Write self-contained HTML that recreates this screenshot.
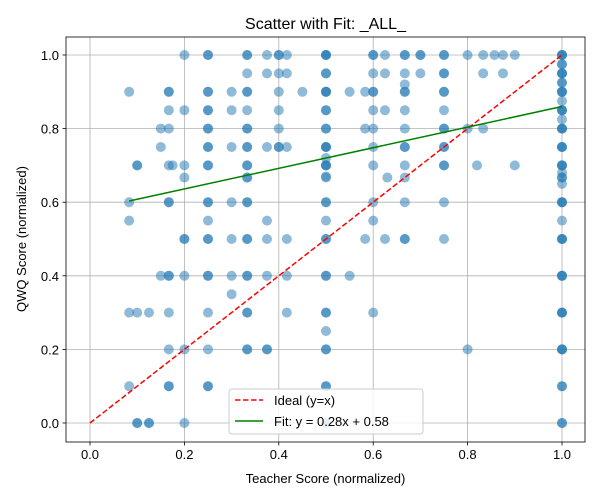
<!DOCTYPE html>
<html><head><meta charset="utf-8"><style>
body{margin:0;background:#fff}
svg{display:block;font-family:"Liberation Sans","DejaVu Sans",sans-serif}
</style></head><body>
<svg id="chart" width="600" height="500" viewBox="0 0 600 500">
<rect x="0" y="0" width="600" height="500" fill="#fff"/>
<g id="grid"></g><g id="pts"></g><g id="lines"></g><g id="axes"></g>
<text x="325.5" y="29" text-anchor="middle" font-size="16">Scatter with Fit: _ALL_</text>
<text x="325.5" y="483" text-anchor="middle" font-size="13">Teacher Score (normalized)</text>
<text x="26" y="239" text-anchor="middle" font-size="13" transform="rotate(-90 26 239)">QWQ Score (normalized)</text>
<g>
<rect x="229" y="389" width="194" height="45" rx="3" fill="#fff" fill-opacity="0.8" stroke="#ccc"/>
<line x1="235" y1="400" x2="263" y2="400" stroke="red" stroke-width="1.5" stroke-dasharray="5.5,2.5"/>
<text x="274" y="405" font-size="13">Ideal (y=x)</text>
<line x1="235" y1="421" x2="263" y2="421" stroke="green" stroke-width="1.5"/>
<text x="274" y="426" font-size="13">Fit: y = 0.28x + 0.58</text>
</g>
</svg>
<script>
const xTicks=[0,0.2,0.4,0.6,0.8,1.0];
const yTicks=[0,0.2,0.4,0.6,0.8,1.0];
const tickLabels=["0.0","0.2","0.4","0.6","0.8","1.0"];
const fitSlope=0.28, fitIntercept=0.58;
const fitRange=[0.083,1.0];
const ptX=[0.2,0.25,0.333,0.375,0.4,0.417,0.5,0.6,0.625,0.667,0.7,0.75,0.8,0.833,0.857,0.875,0.9,1,
0.333,0.375,0.4,0.417,0.5,0.6,0.625,0.667,0.7,0.75,0.833,0.875,1,
0.083,0.167,0.25,0.3,0.333,0.4,0.45,0.5,0.55,0.583,0.6,0.667,0.75,1,
0.167,0.2,0.25,0.3,0.333,0.4,0.5,0.6,0.625,0.667,0.75,1,
0.15,0.167,0.25,0.333,0.4,0.5,0.583,0.6,0.667,0.75,0.8,0.833,1,
0.15,0.25,0.3,0.333,0.375,0.4,0.417,0.5,0.6,0.667,0.75,1,
0.1,0.167,0.175,0.2,0.25,0.333,0.5,0.6,0.667,0.75,0.82,0.9,1,
0.2,0.333,0.5,0.63,0.667,1,
0.083,0.167,0.25,0.3,0.333,0.5,0.6,0.667,0.75,1,
0.083,0.25,0.375,0.5,0.6,1,
0.2,0.25,0.3,0.333,0.375,0.417,0.5,0.583,0.625,0.667,0.75,1,
0.15,0.167,0.2,0.25,0.3,0.333,0.375,0.417,0.5,0.55,1,
0.3,
0.083,0.1,0.125,0.167,0.25,0.333,0.417,0.5,0.6,1,
0.5,
0.167,0.2,0.25,0.333,0.375,0.5,0.8,1,
0.083,0.167,0.25,0.5,1,
0.1,0.125,0.2,0.5,1,
1,1,1,1,1,1,1,0.5,0.5,0.667,0.5];
const ptY=[1,1,1,1,1,1,1,1,1,1,1,1,1,1,1,1,1,1,
0.95,0.95,0.95,0.95,0.95,0.95,0.95,0.95,0.95,0.95,0.95,0.95,0.95,
0.9,0.9,0.9,0.9,0.9,0.9,0.9,0.9,0.9,0.9,0.9,0.9,0.9,0.9,
0.85,0.85,0.85,0.85,0.85,0.85,0.85,0.85,0.85,0.85,0.85,0.85,
0.8,0.8,0.8,0.8,0.8,0.8,0.8,0.8,0.8,0.8,0.8,0.8,0.8,
0.75,0.75,0.75,0.75,0.75,0.75,0.75,0.75,0.75,0.75,0.75,0.75,
0.7,0.7,0.7,0.7,0.7,0.7,0.7,0.7,0.7,0.7,0.7,0.7,0.7,
0.667,0.667,0.667,0.667,0.667,0.667,
0.6,0.6,0.6,0.6,0.6,0.6,0.6,0.6,0.6,0.6,
0.55,0.55,0.55,0.55,0.55,0.55,
0.5,0.5,0.5,0.5,0.5,0.5,0.5,0.5,0.5,0.5,0.5,0.5,
0.4,0.4,0.4,0.4,0.4,0.4,0.4,0.4,0.4,0.4,0.4,
0.35,
0.3,0.3,0.3,0.3,0.3,0.3,0.3,0.3,0.3,0.3,
0.25,
0.2,0.2,0.2,0.2,0.2,0.2,0.2,0.2,
0.1,0.1,0.1,0.1,0.1,
0,0,0,0,0,
0.975,0.925,0.875,0.825,0.68,0.65,0.1,0.67,0.7,0.92,0.72];
const ptCount=[1,2,2,1,2,1,3,2,1,2,2,2,1,1,1,1,1,3,
1,1,1,1,2,1,1,1,1,2,1,1,3,
1,2,2,1,2,1,1,3,1,1,2,2,2,3,
1,1,2,1,1,1,2,1,1,1,1,3,
1,1,2,2,1,2,1,1,1,2,1,1,3,
1,2,1,2,1,2,1,3,1,2,2,3,
2,1,1,1,2,2,2,1,1,2,1,1,3,
1,2,1,1,1,2,
1,2,2,1,2,2,1,1,1,3,
1,1,1,1,1,1,
2,2,1,2,1,1,2,1,1,2,1,3,
1,2,1,2,1,2,1,1,2,1,3,
1,
1,1,1,1,1,2,1,2,1,3,
1,
1,1,1,2,2,2,1,3,
1,2,2,2,1,
2,2,1,1,2,
2,2,1,1,1,1,1,1,1,1,1];
const X=v=>90+v*472, Y=v=>423-v*368;
const NS="http://www.w3.org/2000/svg";
function mk(t,a,p){const e=document.createElementNS(NS,t);for(const k in a)e.setAttribute(k,a[k]);p.appendChild(e);return e;}
const grid=document.getElementById('grid'),axes=document.getElementById('axes'),pts=document.getElementById('pts'),lines=document.getElementById('lines');
xTicks.forEach((v,i)=>{
 const g=mk('line',{x1:X(v),x2:X(v),y1:37,y2:442,stroke:'#b0b0b0','stroke-width':0.8},grid);
 
 
 mk('line',{x1:X(v),x2:X(v),y1:442,y2:445.5,stroke:'#000','stroke-width':0.8},axes);
 const t=mk('text',{x:X(v),y:459,'text-anchor':'middle','font-size':13},axes);t.textContent=tickLabels[i];
 
 
});
yTicks.forEach((v,i)=>{
 const g=mk('line',{x1:66,x2:585,y1:Y(v),y2:Y(v),stroke:'#b0b0b0','stroke-width':0.8},grid);
 
 
 mk('line',{x1:62.5,x2:66,y1:Y(v),y2:Y(v),stroke:'#000','stroke-width':0.8},axes);
 const t=mk('text',{x:59,y:Y(v)+5,'text-anchor':'end','font-size':13},axes);t.textContent=tickLabels[i];
 
 
});
const fr=mk('rect',{x:66,y:37,width:519,height:405,fill:'none',stroke:'#000','stroke-width':0.8},axes);


ptX.forEach((x,i)=>{for(let k=0;k<ptCount[i];k++){
 const c=mk('circle',{cx:X(x),cy:Y(ptY[i]),r:5,fill:'#1f77b4','fill-opacity':0.5},pts);
 
 
}});
const il=mk('line',{x1:X(0),y1:Y(0),x2:X(1),y2:Y(1),stroke:'red','stroke-width':1.5,'stroke-dasharray':'5.5,2.5'},lines);


const fl=mk('line',{x1:X(fitRange[0]),y1:Y(fitSlope*fitRange[0]+fitIntercept),x2:X(fitRange[1]),y2:Y(fitSlope*fitRange[1]+fitIntercept),stroke:'green','stroke-width':1.5},lines);


</script>
</body></html>
